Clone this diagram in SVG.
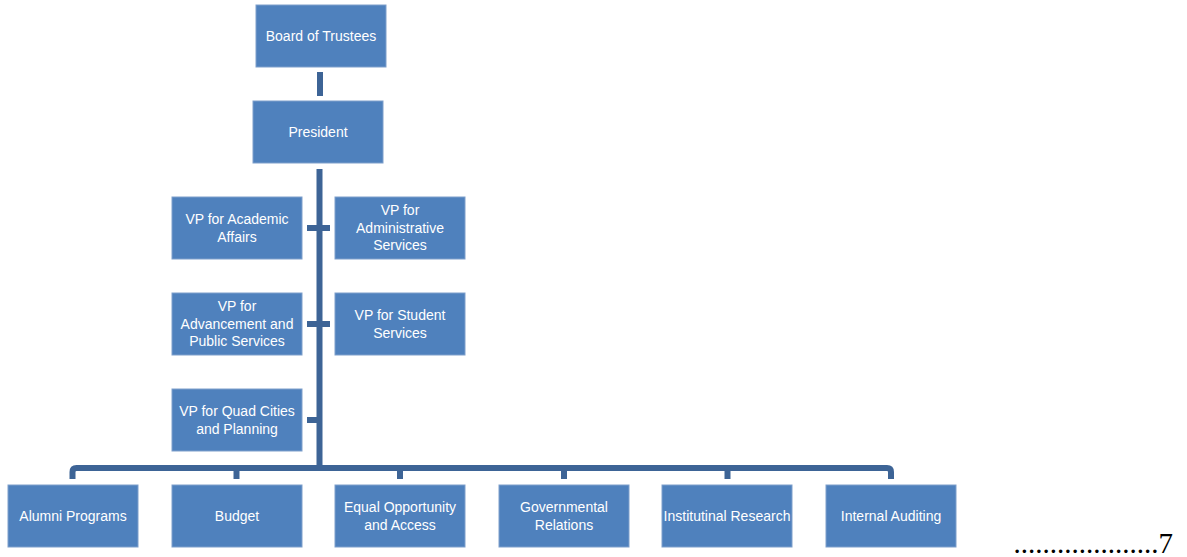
<svg xmlns="http://www.w3.org/2000/svg" width="1187" height="557" viewBox="0 0 1187 557">
<style>
.box{fill:#4F81BD;stroke:#7E9FCB;stroke-width:1}
.t{font-family:"Liberation Sans",Arial,sans-serif;font-size:14px;fill:#ffffff;text-anchor:middle}
.c{fill:none;stroke:#3D6496;stroke-width:6}
.pg{font-family:"Liberation Serif","Times New Roman",serif;font-size:29px;fill:#000000;text-anchor:end}
</style>
<rect width="1187" height="557" fill="#ffffff"/>
<g id="connectors">
<line class="c" x1="320" y1="72" x2="320" y2="96"/>
<line class="c" x1="319.5" y1="169" x2="319.5" y2="471"/>
<line class="c" x1="307" y1="228" x2="330" y2="228"/>
<line class="c" x1="307" y1="324" x2="330" y2="324"/>
<line class="c" x1="307" y1="420" x2="319" y2="420"/>
<path class="c" d="M72.5 479 V472 Q72.5 468 76.5 468 H887 Q891 468 891 472 V479"/>
<line class="c" x1="236.5" y1="468" x2="236.5" y2="479"/>
<line class="c" x1="400" y1="468" x2="400" y2="479"/>
<line class="c" x1="564" y1="468" x2="564" y2="479"/>
<line class="c" x1="727.5" y1="468" x2="727.5" y2="479"/>
</g>
<g id="board"><rect class="box" x="256" y="5" width="130" height="62"/><text class="t" x="321" y="41">Board of Trustees</text></g>
<g id="president"><rect class="box" x="253" y="101" width="130" height="62"/><text class="t" x="318" y="137">President</text></g>
<g id="vp-academic"><rect class="box" x="172" y="197" width="130" height="62"/><text class="t" x="237" y="224">VP for Academic</text><text class="t" x="237" y="242">Affairs</text></g>
<g id="vp-admin"><rect class="box" x="335" y="197" width="130" height="62"/><text class="t" x="400" y="215">VP for</text><text class="t" x="400" y="232.5">Administrative</text><text class="t" x="400" y="250">Services</text></g>
<g id="vp-advancement"><rect class="box" x="172" y="293" width="130" height="62"/><text class="t" x="237" y="311">VP for</text><text class="t" x="237" y="328.5">Advancement and</text><text class="t" x="237" y="346">Public Services</text></g>
<g id="vp-student"><rect class="box" x="335" y="293" width="130" height="62"/><text class="t" x="400" y="320">VP for Student</text><text class="t" x="400" y="338">Services</text></g>
<g id="vp-quad"><rect class="box" x="172" y="389" width="130" height="62"/><text class="t" x="237" y="416">VP for Quad Cities</text><text class="t" x="237" y="434">and Planning</text></g>
<g id="alumni"><rect class="box" x="8" y="485" width="130" height="62"/><text class="t" x="73" y="521">Alumni Programs</text></g>
<g id="budget"><rect class="box" x="172" y="485" width="130" height="62"/><text class="t" x="237" y="521">Budget</text></g>
<g id="equal"><rect class="box" x="335" y="485" width="130" height="62"/><text class="t" x="400" y="512">Equal Opportunity</text><text class="t" x="400" y="530">and Access</text></g>
<g id="governmental"><rect class="box" x="499" y="485" width="130" height="62"/><text class="t" x="564" y="512">Governmental</text><text class="t" x="564" y="530">Relations</text></g>
<g id="institutional"><rect class="box" x="662" y="485" width="130" height="62"/><text class="t" x="727" y="521">Institutinal Research</text></g>
<g id="auditing"><rect class="box" x="826" y="485" width="130" height="62"/><text class="t" x="891" y="521">Internal Auditing</text></g>
<text class="pg" x="1173" y="553">....................7</text>
</svg>
